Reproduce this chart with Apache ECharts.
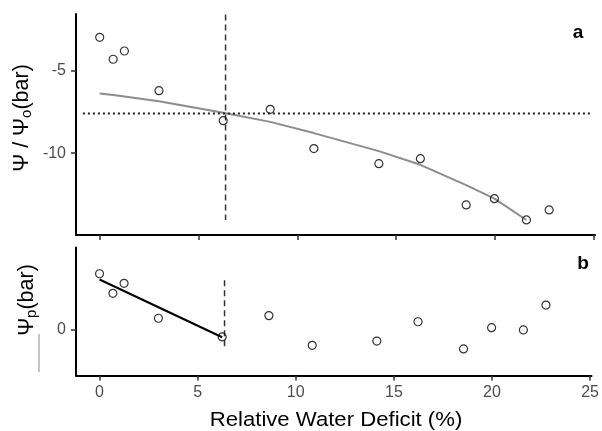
<!DOCTYPE html>
<html><head><meta charset="utf-8">
<script src="https://cdn.jsdelivr.net/npm/echarts@6/dist/echarts.min.js"></script>
<style>html,body{margin:0;padding:0;background:#fff}#c{width:602px;height:431px}</style>
</head><body><div id="c"></div>
<script>
// Relative water deficit (%) for each sample
const rwd = [0, 0.68, 1.25, 3.0, 6.25, 8.63, 10.84, 14.13, 16.23, 18.55, 19.98, 21.6, 22.75];
// Panel a: water potential (bar)
const psiTotal = [-2.98, -4.31, -3.81, -6.21, -8.03, -7.34, -9.72, -10.63, -10.33, -13.13, -12.75, -14.04, -13.43];
// Panel a: fitted osmotic potential curve (bar), at rwd[0..11]
const fitOsmotic = [-6.39, -6.48, -6.56, -6.85, -7.55, -8.1, -8.78, -9.87, -10.7, -11.93, -12.75, -14.04];
// Panel b: turgor pressure (bar)
const psiPressure = [3.38, 2.19, 2.8, 0.68, -0.45, 0.84, -0.96, -0.7, 0.47, -1.18, 0.11, -0.03, 1.48];
// Panel b: linear fit before turgor loss point
const turgorFitX = [0, 6.25];
const turgorFitY = [3.03, -0.47];
// Turgor loss point
const tlpRwd = 6.37;
const tlpPsi = -7.59;
const tlpVLineA = [-1.6, -14.04];
const tlpVLineB = [2.99, -1.21];
const dottedX = [-0.85, 24.9];
// Tick labels
const xTicks = [0, 5, 10, 15, 20, 25];
const yTicksA = [-5, -10];
const yTicksB = [0];

const FONT = 'Liberation Sans, Arial, sans-serif';
const chart = echarts.init(document.getElementById('c'), null, {renderer: 'canvas'});

const axisLine = {show: true, onZero: false, lineStyle: {color: '#000', width: 2}};
const axisTick = (vals) => ({show: true, length: 5, lineStyle: {color: '#333', width: 1.5}, customValues: vals});
const labelStyle = {color: '#4d4d4d', fontSize: 16, fontFamily: FONT};

const rich = {
  m: {fontSize: 21.5, fontFamily: FONT, color: '#000', lineHeight: 23, verticalAlign: 'top'},
  s: {fontSize: 15, fontFamily: FONT, color: '#000', lineHeight: 15, padding: [10, 0, 0, 0], verticalAlign: 'bottom'}
};

const option = {
  animation: false,
  backgroundColor: '#fff',
  grid: [
    {left: 76, top: 14, width: 519, height: 221, containLabel: false},
    {left: 76, top: 247.5, width: 519, height: 128, containLabel: false}
  ],
  xAxis: [
    {type: 'value', gridIndex: 0, min: -1.2, max: 25.07, splitLine: {show: false},
     axisLine: axisLine, axisTick: axisTick(xTicks), axisLabel: {show: false, customValues: xTicks}},
    {type: 'value', gridIndex: 1, min: -1.2, max: 25.07, splitLine: {show: false},
     axisLine: axisLine, axisTick: axisTick(xTicks),
     axisLabel: Object.assign({margin: 9, customValues: xTicks}, labelStyle)}
  ],
  yAxis: [
    {type: 'value', gridIndex: 0, min: -14.95, max: -1.57, splitLine: {show: false},
     axisLine: axisLine, axisTick: axisTick(yTicksA),
     axisLabel: Object.assign({margin: 10, customValues: yTicksA}, labelStyle)},
    {type: 'value', gridIndex: 1, min: -2.79, max: 4.97, splitLine: {show: false},
     axisLine: axisLine, axisTick: axisTick(yTicksB),
     axisLabel: Object.assign({margin: 10, customValues: yTicksB}, labelStyle)}
  ],
  series: [
    {type: 'line', xAxisIndex: 0, yAxisIndex: 0, showSymbol: false, silent: true,
     data: fitOsmotic.map((v, i) => [rwd[i], v]),
     lineStyle: {color: '#8c8c8c', width: 2}, z: 2},
    {type: 'line', xAxisIndex: 0, yAxisIndex: 0, showSymbol: false, silent: true,
     data: dottedX.map(x => [x, tlpPsi]),
     lineStyle: {color: '#222', width: 2, type: [2, 3], cap: 'butt'}, z: 2},
    {type: 'line', xAxisIndex: 0, yAxisIndex: 0, showSymbol: false, silent: true,
     data: tlpVLineA.map(y => [tlpRwd, y]),
     lineStyle: {color: '#333', width: 1.5, type: [6, 4]}, z: 2},
    {type: 'scatter', xAxisIndex: 0, yAxisIndex: 0, symbol: 'circle', symbolSize: 8,
     data: psiTotal.map((v, i) => [rwd[i], v]),
     itemStyle: {color: 'rgba(0,0,0,0)', borderColor: '#000', borderWidth: 1.2}, z: 3},

    {type: 'line', xAxisIndex: 1, yAxisIndex: 1, showSymbol: false, silent: true,
     data: turgorFitX.map((x, i) => [x, turgorFitY[i]]),
     lineStyle: {color: '#000', width: 2}, z: 2},
    {type: 'line', xAxisIndex: 1, yAxisIndex: 1, showSymbol: false, silent: true,
     data: tlpVLineB.map(y => [tlpRwd, y]),
     lineStyle: {color: '#333', width: 1.5, type: [6, 4]}, z: 2},
    {type: 'scatter', xAxisIndex: 1, yAxisIndex: 1, symbol: 'circle', symbolSize: 8,
     data: psiPressure.map((v, i) => [rwd[i], v]),
     itemStyle: {color: 'rgba(0,0,0,0)', borderColor: '#000', borderWidth: 1.2}, z: 3}
  ],
  graphic: [
    {type: 'text', x: 23, y: 118, rotation: Math.PI / 2,
     style: {text: '{m|Ψ / Ψ}{s|o}{m|(bar)}', rich: rich, align: 'center', verticalAlign: 'middle'}},
    {type: 'text', x: 28, y: 300, rotation: Math.PI / 2,
     style: {text: '{m|Ψ}{s|p}{m|(bar)}', rich: rich, align: 'center', verticalAlign: 'middle'}},
    {type: 'line', shape: {x1: 39, y1: 334, x2: 39, y2: 372}, style: {stroke: '#b0b0b0', lineWidth: 1.5}},
    {type: 'text', x: 336, y: 420, scaleX: 1.08,
     style: {text: 'Relative Water Deficit (%)', font: '20.5px ' + FONT, fill: '#000', align: 'center', verticalAlign: 'middle'}},
    {type: 'text', x: 578, y: 33,
     style: {text: 'a', font: 'bold 19px ' + FONT, fill: '#000', align: 'center', verticalAlign: 'middle'}},
    {type: 'text', x: 583, y: 264,
     style: {text: 'b', font: 'bold 19px ' + FONT, fill: '#000', align: 'center', verticalAlign: 'middle'}}
  ]
};
chart.setOption(option);
</script>
</body></html>
